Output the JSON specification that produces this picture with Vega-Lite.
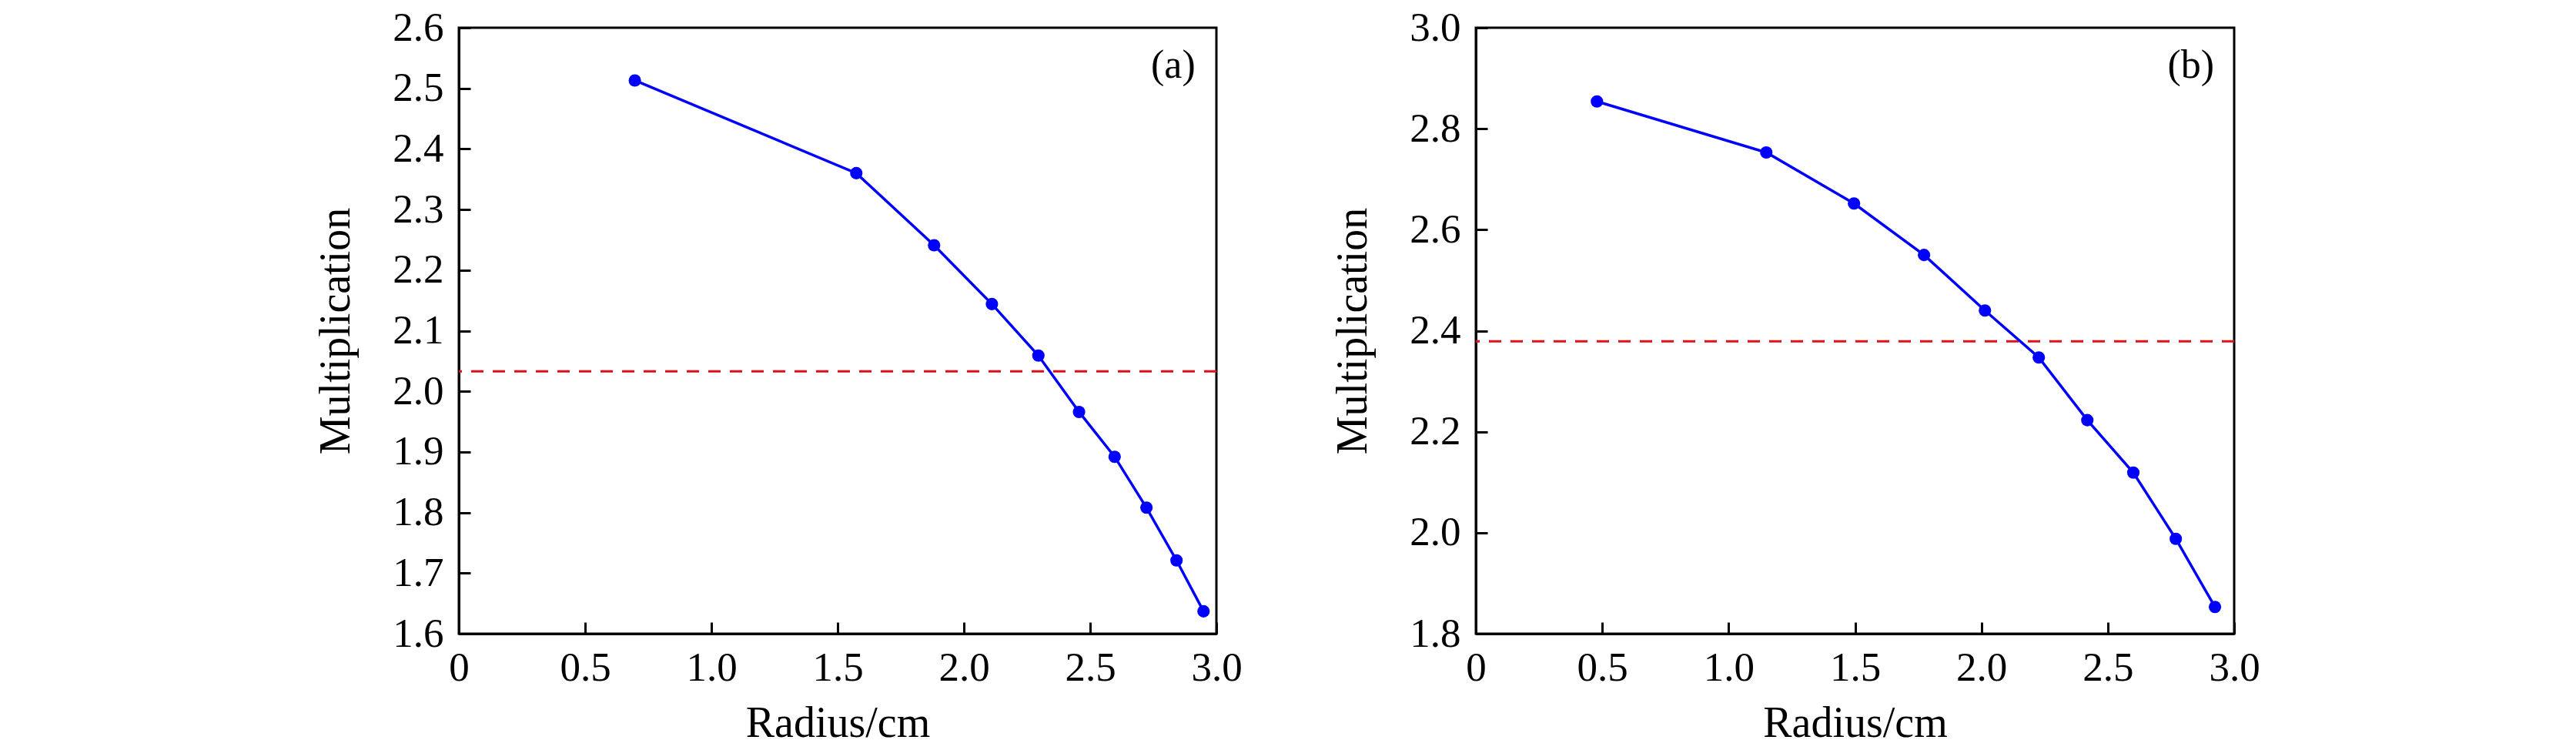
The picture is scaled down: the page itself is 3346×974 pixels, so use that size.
{
  "$schema": "https://vega.github.io/schema/vega-lite/v6.json",
  "background": "white",
  "padding": {"left": 407, "top": 8, "right": 5, "bottom": 5},
  "bounds": "flush",
  "datasets": {
    "a": [
      {"radius": 0.697, "mult": 2.513},
      {"radius": 1.574, "mult": 2.360},
      {"radius": 1.882, "mult": 2.241},
      {"radius": 2.111, "mult": 2.144},
      {"radius": 2.295, "mult": 2.059},
      {"radius": 2.456, "mult": 1.966},
      {"radius": 2.597, "mult": 1.892},
      {"radius": 2.723, "mult": 1.808},
      {"radius": 2.842, "mult": 1.721},
      {"radius": 2.949, "mult": 1.637}
    ],
    "b": [
      {"radius": 0.479, "mult": 2.854},
      {"radius": 1.149, "mult": 2.753},
      {"radius": 1.496, "mult": 2.652},
      {"radius": 1.773, "mult": 2.550},
      {"radius": 2.014, "mult": 2.440},
      {"radius": 2.227, "mult": 2.347},
      {"radius": 2.419, "mult": 2.223},
      {"radius": 2.601, "mult": 2.119},
      {"radius": 2.769, "mult": 1.988},
      {"radius": 2.924, "mult": 1.853}
    ],
    "refa": [{"mult": 2.033}],
    "refb": [{"mult": 2.379}],
    "taga": [{"radius": 2.829, "mult": 2.538, "tag": "(a)"}],
    "tagb": [{"radius": 2.829, "mult": 2.925, "tag": "(b)"}]
  },
  "config": {
    "font": "Liberation Serif",
    "view": {"stroke": "black", "strokeWidth": 3},
    "axis": {
      "grid": false,
      "domainColor": "black",
      "domainWidth": 3,
      "tickColor": "black",
      "tickWidth": 3,
      "tickSize": -15,
      "labelFont": "Liberation Serif",
      "labelFontSize": 53,
      "labelColor": "black",
      "labelPadding": 35,
      "titleFont": "Liberation Serif",
      "titleFontSize": 56,
      "titleFontWeight": "normal",
      "titleColor": "black"
    },
    "axisX": {"labelPadding": 33, "titlePadding": 18},
    "axisY": {"titlePadding": 44}
  },
  "hconcat": [
    {
      "width": 984,
      "height": 787,
      "layer": [
        {
          "data": {"name": "refa"},
          "mark": {"type": "rule", "color": "#e0101a", "strokeWidth": 3, "strokeDash": [16, 12]},
          "encoding": {"y": {"field": "mult", "type": "quantitative"}}
        },
        {
          "data": {"name": "a"},
          "mark": {"type": "line", "color": "#0000ff", "strokeWidth": 3.5, "point": {"filled": true, "color": "#0000ff", "size": 260, "opacity": 1}},
          "encoding": {
            "x": {
              "field": "radius", "type": "quantitative", "title": "Radius/cm",
              "scale": {"domain": [0, 3]},
              "axis": {"values": [0, 0.5, 1, 1.5, 2, 2.5, 3], "labelExpr": "datum.value === 0 ? '0' : format(datum.value, '.1f')", "labelFlush": false}
            },
            "y": {
              "field": "mult", "type": "quantitative", "title": "Multiplication",
              "scale": {"domain": [1.6, 2.6], "zero": false},
              "axis": {"values": [1.6, 1.7, 1.8, 1.9, 2.0, 2.1, 2.2, 2.3, 2.4, 2.5, 2.6], "format": ".1f", "labelFlush": false}
            }
          }
        },
        {
          "data": {"name": "taga"},
          "mark": {"type": "text", "font": "Liberation Serif", "fontSize": 52, "align": "center", "baseline": "middle", "color": "black"},
          "encoding": {
            "x": {"field": "radius", "type": "quantitative"},
            "y": {"field": "mult", "type": "quantitative"},
            "text": {"field": "tag"}
          }
        }
      ]
    },
    {
      "width": 985,
      "height": 787,
      "layer": [
        {
          "data": {"name": "refb"},
          "mark": {"type": "rule", "color": "#e0101a", "strokeWidth": 3, "strokeDash": [16, 12]},
          "encoding": {"y": {"field": "mult", "type": "quantitative"}}
        },
        {
          "data": {"name": "b"},
          "mark": {"type": "line", "color": "#0000ff", "strokeWidth": 3.5, "point": {"filled": true, "color": "#0000ff", "size": 260, "opacity": 1}},
          "encoding": {
            "x": {
              "field": "radius", "type": "quantitative", "title": "Radius/cm",
              "scale": {"domain": [0, 3]},
              "axis": {"values": [0, 0.5, 1, 1.5, 2, 2.5, 3], "labelExpr": "datum.value === 0 ? '0' : format(datum.value, '.1f')", "labelFlush": false}
            },
            "y": {
              "field": "mult", "type": "quantitative", "title": "Multiplication",
              "scale": {"domain": [1.8, 3.0], "zero": false},
              "axis": {"values": [1.8, 2.0, 2.2, 2.4, 2.6, 2.8, 3.0], "format": ".1f", "labelFlush": false}
            }
          }
        },
        {
          "data": {"name": "tagb"},
          "mark": {"type": "text", "font": "Liberation Serif", "fontSize": 52, "align": "center", "baseline": "middle", "color": "black"},
          "encoding": {
            "x": {"field": "radius", "type": "quantitative"},
            "y": {"field": "mult", "type": "quantitative"},
            "text": {"field": "tag"}
          }
        }
      ]
    }
  ],
  "resolve": {"scale": {"x": "independent", "y": "independent"}},
  "spacing": 337
}
